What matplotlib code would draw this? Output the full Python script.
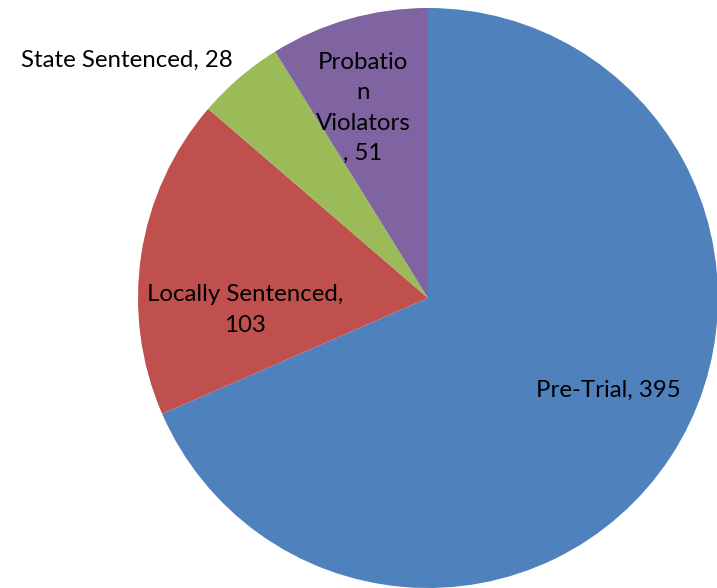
import matplotlib
matplotlib.use("Agg")
import matplotlib.pyplot as plt

# donnees
categories = ["Pre-Trial", "Locally Sentenced", "State Sentenced", "Probation Violators"]
values = [395, 103, 28, 51]
label_texts = ["Pre-Trial, 395", "Locally Sentenced,\n103", "State Sentenced, 28", "Probatio\nn\nViolators\n, 51"]
colors = ["#4F81BD", "#C0504D", "#9BBB59", "#8064A2"]

# position des etiquettes (coord. du camembert, rayon 1)
label_pos = [(0.621, -0.317), (-0.631, -0.041), (-1.038, 0.821), (-0.224, 0.655)]

plt.rcParams["font.family"] = ["Lato", "DejaVu Sans"]

fig = plt.figure(figsize=(7.17, 5.88), dpi=100)
ax = fig.add_axes([138 / 717, 0.0, 580 / 717, 580 / 588])

ax.pie(values, colors=colors, startangle=90, counterclock=False,
       radius=1, wedgeprops=dict(linewidth=0))

for txt, (x, y) in zip(label_texts, label_pos):
    ax.text(x, y, txt, ha="center", va="center", fontsize=17.3,
            color="black", linespacing=1.56)

ax.set_xlim(-1, 1)
ax.set_ylim(-1, 1)
ax.set_aspect("equal")
ax.axis("off")

fig.savefig("out.png", dpi=100)
